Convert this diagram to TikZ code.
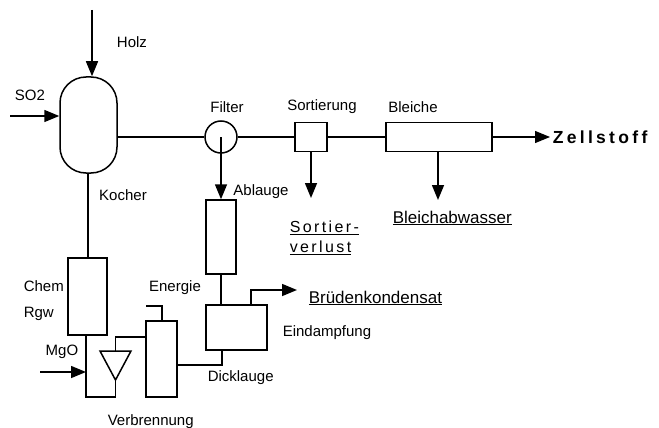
\documentclass[tikz,border=0pt]{standalone}
\usepackage{fontspec}
\setmainfont{Liberation Sans}
\usetikzlibrary{arrows.meta,positioning}
\begin{document}
\begin{tikzpicture}[x=1pt,y=-1pt,
  line width=1.5pt,
  lbl/.style={inner sep=0pt,font=\fontsize{15}{17}\selectfont},
  outlbl/.style={inner sep=0pt,font=\fontsize{17}{19}\selectfont},
  unit/.style={draw,inner sep=0pt},
  flow/.style={-{Triangle[length=15pt,width=12pt]}},
  pipe/.style={line width=1.2pt}]
\useasboundingbox (0,0) rectangle (659,428);
% units
\node[unit,rounded corners=26pt,minimum width=57pt,minimum height=96pt] (kocher) at (88.5,125) {};
\node[unit,circle,minimum size=32pt] (filter) at (221,137) {};
\node[unit,minimum width=32pt,minimum height=29pt] (sort) at (311,137) {};
\node[unit,minimum width=106pt,minimum height=29pt] (bleiche) at (439,137) {};
\node[unit,minimum width=30pt,minimum height=74pt] (ablauge) at (221,237) {};
\node[unit,minimum width=61pt,minimum height=45pt] (eind) at (236.5,327.5) {};
\node[unit,minimum width=31pt,minimum height=76pt] (verb) at (161.5,359) {};
\node[unit,minimum width=39pt,minimum height=77pt] (chem) at (87.5,296.5) {};
% triangle
\coordinate (tl) at (100,351);
\coordinate (tr) at (131,351);
\coordinate (ta) at (115.5,380);
\coordinate (tm) at (115.5,351);
\draw (tl) -- (tr) -- (ta) -- cycle;
% labels
\node[lbl] (holz) at (132,42) {Holz};
\node[lbl] (so2) at (30,95) {SO2};
\node[lbl] (lkocher) at (123,195) {Kocher};
\node[lbl] (lfilter) at (227,107) {Filter};
\node[lbl] (lsort) at (322,107) {Sortierung};
\node[lbl] (lbleiche) at (413,107) {Bleiche};
\node[inner sep=0pt,anchor=west,font=\fontsize{17.5}{19}\selectfont\bfseries\addfontfeatures{LetterSpace=19}] (zell) at (552,137) {Zellstoff};
\node[lbl] (lablauge) at (261,192) {Ablauge};
\node[outlbl,anchor=west,align=left,font=\fontsize{16}{20}\selectfont\addfontfeatures{LetterSpace=15}] (sverl) at (289,238) {\underline{Sortier-}\\\underline{verlust}};
\node[outlbl,anchor=west] (babw) at (392,218) {\underline{Bleichabwasser}};
\node[lbl] (energie) at (175,288) {Energie};
\node[outlbl,anchor=west] (bruden) at (308,298) {\underline{Brüdenkondensat}};
\node[lbl,anchor=west] (leind) at (282,333) {Eindampfung};
\node[lbl,anchor=west] (lchem) at (23,286) {Chem};
\node[lbl,anchor=west] (lrgw) at (23,314) {Rgw};
\node[lbl] (mgo) at (62,352) {MgO};
\node[lbl,anchor=west] (dick) at (207,378) {Dicklauge};
\node[lbl,anchor=west] (lverb) at (107,422) {Verbrennung};
% free ends
\coordinate (holzin) at (92,10);
\coordinate (so2in) at (10,116);
\coordinate (mgoin) at (40,372);
\coordinate (sortout) at (311,198);
\coordinate (bleichout) at (438,200);
\coordinate (zellout) at (550,137);
\coordinate (brudout) at (297,290);
% connectors
\draw[flow] (holzin) -- (holzin |- kocher.north);
\draw[flow] (so2in) -- (so2in -| kocher.west);
\draw[pipe] (kocher.east |- filter.west) -- (filter.west);
\draw[pipe] (filter.east) -- (sort.west);
\draw[pipe] (sort.east) -- (bleiche.west);
\draw[pipe,flow] (bleiche.east) -- (zellout);
\draw[flow] (sort.south) -- (sortout);
\draw[flow] (bleichout |- bleiche.south) -- (bleichout);
\draw[flow] (filter.center) -- (ablauge.north);
\draw (ablauge.south) -- (eind.north -| ablauge.south);
\draw[flow] (251,305) -- (251,290) -- (brudout);
\draw (222,350) -- (222,365) -- (verb.east |- 0,365);
\draw (162,321) -- (162,306) -- (146,306);
\draw (88,173) -- (chem.north -| 88,0);
\draw (86,335) -- (86,397) -- (115.5,397) -- (ta);
\draw (tm) -- (115.5,337) -- (verb.west |- 0,337);
\draw[flow] (mgoin) -- (86,372);
\end{tikzpicture}
\end{document}
